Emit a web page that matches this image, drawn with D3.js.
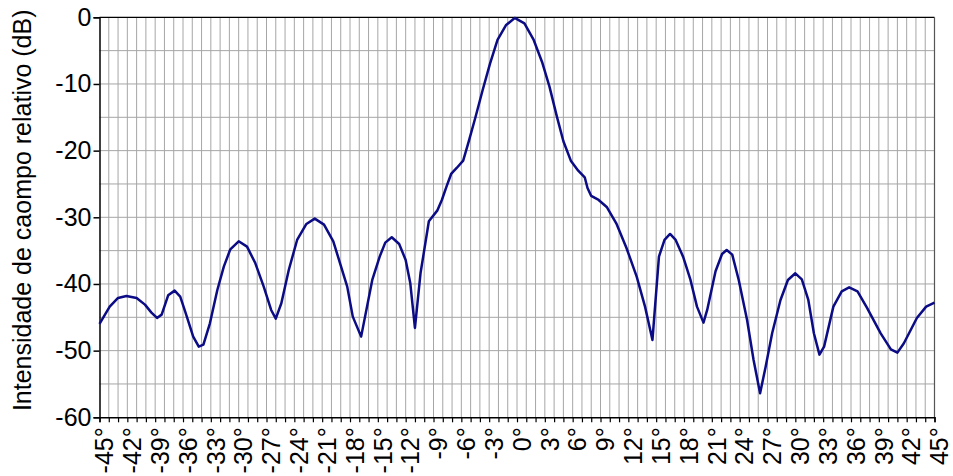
<!DOCTYPE html>
<html>
<head>
<meta charset="utf-8">
<script src="https://cdn.jsdelivr.net/npm/d3@7"></script>
<style>
  body { margin: 0; background: #fff; }
  svg { display: block; font-family: Arial, "Liberation Sans", sans-serif; }
</style>
</head>
<body>
<div id="chart"></div>
<script>
// DATA
const angles = [-45, -43.9, -43.0, -42.1, -41.0, -40.1, -39.4, -38.8, -38.3, -37.6,
  -36.9, -36.3, -35.7, -34.9, -34.3, -33.8, -33.1, -32.3, -31.6, -30.9,
  -30.0, -29.1, -28.2, -27.3, -26.5, -26.0, -25.4, -24.6, -23.7, -22.7,
  -21.8, -20.8, -19.8, -18.3, -17.7, -16.8, -15.6, -14.8, -14.2, -13.5,
  -12.7, -12.0, -11.5, -11.0, -10.4, -9.5, -8.6, -8.1, -7.6, -7.1,
  -6.5, -5.8, -5.2, -4.5, -3.7, -2.9, -2.1, -1.2, -0.25, 0.8,
  1.8, 2.7, 3.5, 4.3, 5.0, 5.8, 6.6, 7.3, 7.6, 8.0,
  8.8, 9.7, 10.7, 11.8, 12.9, 13.8, 14.6, 15.3, 15.9, 16.5,
  17.1, 17.9, 18.7, 19.4, 20.1, 20.5, 21.4, 22.1, 22.6, 23.2,
  23.9, 24.8, 25.5, 26.2, 26.8, 27.5, 28.4, 29.2, 30.0, 30.7,
  31.4, 32.0, 32.6, 33.1, 34.1, 35.0, 35.8, 36.7, 37.7, 39.2,
  40.3, 41.0, 41.7, 43.1, 44.1, 45];
const levels = [-46.0, -43.4, -42.1, -41.8, -42.1, -43.1, -44.3, -45.1, -44.6, -41.7,
  -41.0, -41.9, -44.4, -47.9, -49.4, -49.1, -45.9, -40.9, -37.4, -34.8,
  -33.6, -34.4, -36.9, -40.4, -43.9, -45.2, -42.9, -37.9, -33.4, -31.0,
  -30.2, -31.1, -33.6, -40.4, -44.9, -47.9, -39.4, -35.9, -33.8, -33.0,
  -34.0, -36.4, -39.9, -46.6, -38.4, -30.6, -29.0, -27.4, -25.4, -23.5,
  -22.6, -21.5, -18.6, -15.1, -10.9, -6.9, -3.4, -1.2, -0.1, -0.9,
  -3.4, -6.7, -10.4, -14.9, -18.6, -21.5, -23.0, -24.0, -25.6, -26.8,
  -27.4, -28.5, -30.9, -34.6, -38.9, -43.4, -48.4, -35.9, -33.4, -32.5,
  -33.4, -35.9, -39.4, -43.4, -45.8, -43.9, -38.1, -35.5, -34.9, -35.6,
  -39.4, -45.4, -51.4, -56.4, -52.4, -47.4, -42.4, -39.4, -38.4, -39.3,
  -42.4, -47.4, -50.6, -49.4, -43.4, -41.1, -40.5, -41.1, -43.5, -47.4,
  -49.8, -50.3, -48.9, -45.1, -43.4, -42.8];
const yTicks = [0, -10, -20, -30, -40, -50, -60];
const xLabelTicks = d3.range(-45, 46, 3);
const yTitle = "Intensidade de caompo relativo (dB)";

const W = 953, H = 476;
const plotL = 99.5, plotR = 934.5, plotT = 17.3, plotB = 417.3;

const svg = d3.select("#chart").append("svg")
  .attr("width", W).attr("height", H);

const x = d3.scaleLinear().domain([-45, 45]).range([plotL, plotR]);
const y = d3.scaleLinear().domain([-60, 0]).range([plotB, plotT]);

// GRID
const grid = svg.append("g").attr("stroke", "#a6a6a6").attr("stroke-width", 1);
grid.selectAll(".vg").data(d3.range(-44, 45, 1)).join("line")
  .attr("x1", d => x(d)).attr("x2", d => x(d))
  .attr("y1", plotT).attr("y2", plotB);
grid.selectAll(".hg").data(d3.range(-55, 0, 5)).join("line")
  .attr("x1", plotL).attr("x2", plotR)
  .attr("y1", d => y(d)).attr("y2", d => y(d));

// frame top and right
svg.append("line").attr("x1", plotL).attr("x2", plotR).attr("y1", plotT).attr("y2", plotT)
  .attr("stroke", "#000").attr("stroke-width", 1.2);
svg.append("line").attr("x1", plotR).attr("x2", plotR).attr("y1", plotT).attr("y2", plotB)
  .attr("stroke", "#555").attr("stroke-width", 1.2);

// Y AXIS (plain hyphen for minus, like the original)
const yAxis = svg.append("g").attr("transform", `translate(${plotL},0)`)
  .call(d3.axisLeft(y).tickValues(yTicks).tickSize(6).tickPadding(2).tickFormat(d => String(d)));
yAxis.select(".domain").attr("stroke", "#000").attr("stroke-width", 1.5);
yAxis.selectAll(".tick line").attr("stroke", "#000").attr("stroke-width", 1.5);
yAxis.selectAll(".tick text").attr("font-size", 25).attr("fill", "#000")
  .attr("font-family", "Arial, 'Liberation Sans', sans-serif");

// X AXIS
const xAxis = svg.append("g").attr("transform", `translate(0,${plotB})`)
  .call(d3.axisBottom(x).tickValues(d3.range(-45, 46, 1)).tickSize(5).tickFormat(""));
xAxis.select(".domain").attr("stroke", "#000").attr("stroke-width", 1.5);
xAxis.selectAll(".tick line").attr("stroke", "#000").attr("stroke-width", 1.2);

svg.append("g").selectAll("text").data(xLabelTicks).join("text")
  .attr("transform", d => `translate(${x(d)},${plotB + 10}) rotate(-90)`)
  .attr("text-anchor", "end")
  .attr("dy", "0.55em")
  .attr("font-size", 25)
  .attr("fill", "#000")
  .text(d => d + "°");

// Y TITLE
svg.append("text")
  .attr("transform", `translate(31,${(plotT + plotB) / 2 - 7}) rotate(-90)`)
  .attr("text-anchor", "middle")
  .attr("font-size", 25)
  .attr("fill", "#000")
  .text(yTitle);

// CURVE
const pts = angles.map((a, i) => [a, levels[i]]);
svg.append("path")
  .datum(pts)
  .attr("fill", "none")
  .attr("stroke", "#0b0b85")
  .attr("stroke-width", 2.5)
  .attr("stroke-linejoin", "round")
  .attr("d", d3.line().x(d => x(d[0])).y(d => y(d[1])));
</script>
</body>
</html>
